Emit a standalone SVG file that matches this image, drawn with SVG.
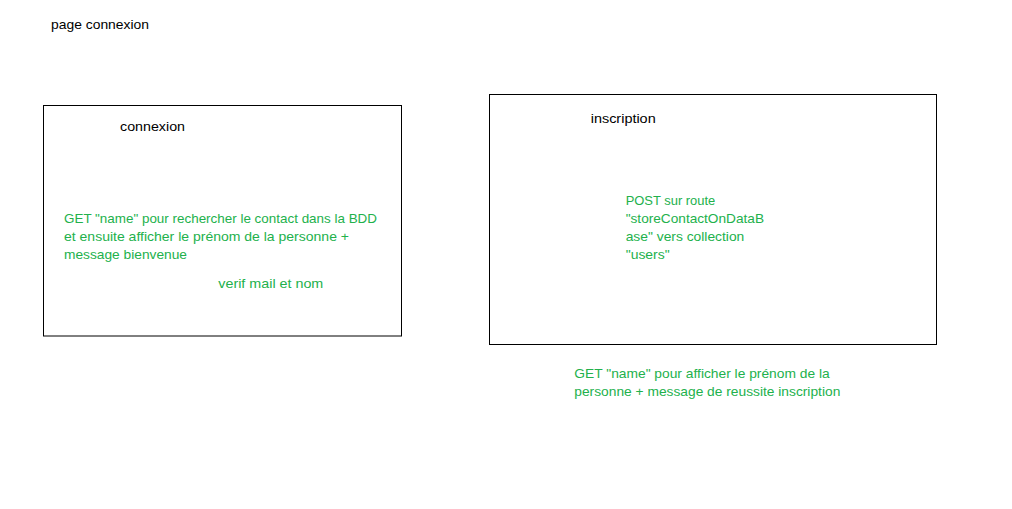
<svg xmlns="http://www.w3.org/2000/svg" width="1012" height="509" viewBox="0 0 1012 509">
<style>
text{font-family:"Liberation Sans",Arial,sans-serif;font-size:13.6px}
.k{fill:#000}
.g{fill:#22b14c}
.box{fill:none;stroke:#000;stroke-width:1}
</style>
<rect width="1012" height="509" fill="#fff"/>
<g id="title"><text class="k" x="51" y="28.5" textLength="98" lengthAdjust="spacingAndGlyphs">page connexion</text></g>
<g id="connexion">
<rect class="box" x="43.5" y="105.5" width="358" height="230.5"/>
<text class="k" x="120" y="131" textLength="65" lengthAdjust="spacingAndGlyphs">connexion</text>
<text class="g" x="64" y="222.5" textLength="313" lengthAdjust="spacingAndGlyphs">GET "name" pour rechercher le contact dans la BDD</text>
<text class="g" x="64" y="240.5" textLength="285" lengthAdjust="spacingAndGlyphs">et ensuite afficher le prénom de la personne +</text>
<text class="g" x="64" y="258.5" textLength="123" lengthAdjust="spacingAndGlyphs">message bienvenue</text>
<text class="g" x="218.3" y="287.5" textLength="105" lengthAdjust="spacingAndGlyphs">verif mail et nom</text>
</g>
<g id="inscription">
<rect class="box" x="489.5" y="94.5" width="447" height="250"/>
<text class="k" x="590.7" y="123" textLength="65" lengthAdjust="spacingAndGlyphs">inscription</text>
<text class="g" x="625.7" y="205" textLength="89.6" lengthAdjust="spacingAndGlyphs">POST sur route</text>
<text class="g" x="625.7" y="223" textLength="138.3" lengthAdjust="spacingAndGlyphs">"storeContactOnDataB</text>
<text class="g" x="625.7" y="241" textLength="118.6" lengthAdjust="spacingAndGlyphs">ase" vers collection</text>
<text class="g" x="625.7" y="259" textLength="44" lengthAdjust="spacingAndGlyphs">"users"</text>
</g>
<g id="note">
<text class="g" x="574.3" y="378" textLength="255.4" lengthAdjust="spacingAndGlyphs">GET "name" pour afficher le prénom de la</text>
<text class="g" x="574.3" y="396" textLength="266" lengthAdjust="spacingAndGlyphs">personne + message de reussite inscription</text>
</g>
<g id="connectors"></g>
</svg>
